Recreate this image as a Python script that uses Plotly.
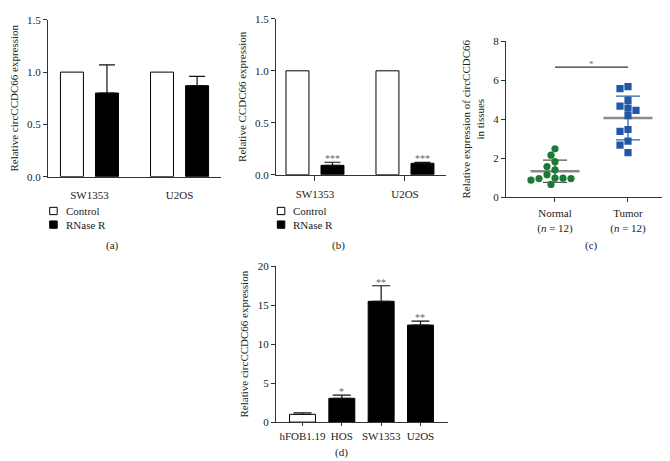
import numpy as np
import plotly.graph_objects as go

W, H = 670, 461
FONT = "Liberation Serif"
AX = "#333333"
TXT = "#222222"

# ---------------- data ----------------
# (a) circCCDC66 after RNase R
a_cells = ["SW1353", "U2OS"]
a_control = [1.0, 1.0]
a_rnase = [0.80, 0.87]
a_rnase_err = [0.27, 0.09]

# (b) linear CCDC66 after RNase R
b_cells = ["SW1353", "U2OS"]
b_control = [1.0, 1.0]
b_rnase = [0.09, 0.11]
b_rnase_err = [0.03, 0.01]
b_sig = ["***", "***"]

# (c) tissues
c_groups = ["Normal", "Tumor"]
c_group_labels = ["Normal<br>(<i>n</i> = 12)", "Tumor<br>(<i>n</i> = 12)"]
c_normal = [2.48, 2.15, 1.82, 1.57, 1.40, 1.15, 0.98, 0.97, 0.95, 0.95, 0.87, 0.65]
c_tumor = [5.67, 5.57, 4.97, 4.67, 4.57, 4.45, 4.18, 3.47, 3.37, 2.87, 2.67, 2.28]
c_sig = "*"

# (d) cell lines
d_cells = ["hFOB1.19", "HOS", "SW1353", "U2OS"]
d_values = [1.0, 3.05, 15.5, 12.45]
d_err = [0.2, 0.42, 2.0, 0.5]
d_sig = ["", "*", "**", "**"]

legend_names = ["Control", "RNase R"]


def px(x):
    return x / W


def py(y):
    return 1 - y / H


fig = go.Figure()

BAR_W = 0.255
OFF_C = -0.322
OFF_R = 0.067

# ---- panel a ----
fig.add_trace(go.Bar(x=a_cells, y=a_control, xaxis="x", yaxis="y", width=BAR_W, offset=OFF_C,
                     marker=dict(color="white", line=dict(color="black", width=1)),
                     name=legend_names[0], showlegend=False))
fig.add_trace(go.Bar(x=a_cells, y=a_rnase, xaxis="x", yaxis="y", width=BAR_W, offset=OFF_R,
                     marker=dict(color="black", line=dict(color="black", width=1)),
                     error_y=dict(type="data", array=a_rnase_err, arrayminus=[0] * len(a_rnase_err),
                                  symmetric=False, color="#111", thickness=1.2, width=8),
                     name=legend_names[1], showlegend=False))

# ---- panel b ----
fig.add_trace(go.Bar(x=b_cells, y=b_control, xaxis="x2", yaxis="y2", width=BAR_W, offset=OFF_C,
                     marker=dict(color="white", line=dict(color="black", width=1)),
                     name=legend_names[0], showlegend=False))
fig.add_trace(go.Bar(x=b_cells, y=b_rnase, xaxis="x2", yaxis="y2", width=BAR_W, offset=OFF_R,
                     marker=dict(color="black", line=dict(color="black", width=1)),
                     error_y=dict(type="data", array=b_rnase_err, arrayminus=[0] * len(b_rnase_err),
                                  symmetric=False, color="#111", thickness=1.2, width=8),
                     name=legend_names[1], showlegend=False))

# ---- panel c ----
c_dom_x = [498 / W, 660 / W]
c_range_x = [-0.671, 1.548]
c_range_y = [0, 8]
px_per_x = (c_dom_x[1] - c_dom_x[0]) * W / (c_range_x[1] - c_range_x[0])
px_per_y = 160 / (c_range_y[1] - c_range_y[0])


def swarm(values, diam=7.4, step=4):
    vals = np.asarray(values, dtype=float)
    order = np.argsort(-vals, kind="stable")
    placed = []
    offs = np.zeros(len(vals))
    cands = [0]
    for k in range(1, 12):
        cands += [-k * step, k * step]
    for i in order:
        yy = vals[i] * px_per_y
        chosen = cands[-1]
        for c in cands:
            if all((c - qx) ** 2 + (yy - qy) ** 2 >= diam ** 2 for qx, qy in placed):
                chosen = c
                break
        placed.append((chosen, yy))
        offs[i] = chosen / px_per_x
    return offs


c_colors = ["#1b7a36", "#2257a8"]
c_sd_colors = ["#555555", "#2d62b5"]
c_symbols = ["circle", "square"]
for gi, vals in enumerate([c_normal, c_tumor]):
    m = float(np.mean(vals))
    sd = float(np.std(vals, ddof=1))
    fig.add_trace(go.Scatter(x=[gi], y=[m], xaxis="x3", yaxis="y3", mode="markers",
                             marker=dict(symbol="line-ew", size=35, color="#8a8a8a",
                                         line=dict(color="#8a8a8a", width=2.5)),
                             error_y=dict(type="data", array=[sd], color=c_sd_colors[gi],
                                          thickness=1.3, width=12),
                             showlegend=False, hoverinfo="skip"))
for gi, vals in enumerate([c_normal, c_tumor]):
    offs = swarm(vals)
    fig.add_trace(go.Scatter(x=gi + offs, y=vals, xaxis="x3", yaxis="y3", mode="markers",
                             marker=dict(symbol=c_symbols[gi], size=7.2, color=c_colors[gi]),
                             name=c_groups[gi], showlegend=False))

sig_level = max(max(c_normal), max(c_tumor)) + 1.0
fig.add_shape(type="line", xref="x3", yref="y3", x0=0, x1=1, y0=sig_level, y1=sig_level,
              line=dict(color="#333", width=1.2))
fig.add_annotation(x=0.5, y=sig_level, xref="x3", yref="y3", text=c_sig, showarrow=False,
                   yanchor="bottom", yshift=-4, font=dict(family=FONT, size=9, color="#666"))

# ---- panel d ----
d_colors = ["white" if i == 0 else "black" for i in range(len(d_cells))]
fig.add_trace(go.Bar(x=d_cells, y=d_values, xaxis="x4", yaxis="y4", width=0.66, offset=-0.33,
                     marker=dict(color=d_colors, line=dict(color="black", width=1)),
                     error_y=dict(type="data", array=d_err, arrayminus=[0] * len(d_err),
                                  symmetric=False, color="#111", thickness=1.2, width=9),
                     showlegend=False))

# stars
for i, s in enumerate(b_sig):
    fig.add_annotation(x=i + OFF_R + BAR_W / 2, y=b_rnase[i] + b_rnase_err[i], xref="x2", yref="y2",
                       text=s, showarrow=False, yanchor="bottom", yshift=-4,
                       font=dict(family=FONT, size=10, color="#666"))
for i, s in enumerate(d_sig):
    if s:
        fig.add_annotation(x=i, y=d_values[i] + d_err[i], xref="x4", yref="y4",
                           text=s, showarrow=False, yanchor="bottom", yshift=-4,
                           font=dict(family=FONT, size=10, color="#666"))

# legends for a and b (swatches + text)
for lx in [41.7, 269.3]:
    for k, (name, fill) in enumerate(zip(legend_names, ["white", "black"])):
        y0 = 198.5 + k * 14
        fig.add_shape(type="rect", xref="paper", yref="paper",
                      x0=px(lx), x1=px(lx + 7.5), y0=py(y0 + 7.5), y1=py(y0),
                      line=dict(color="black", width=1), fillcolor=fill)
        fig.add_annotation(x=px(lx + 14), y=py(y0 + 3.8), xref="paper", yref="paper", text=name,
                           showarrow=False, xanchor="left", yanchor="middle",
                           font=dict(family=FONT, size=11, color=TXT))

# captions
for label, (cx, cy) in zip(["(a)", "(b)", "(c)", "(d)"],
                           [(104, 238), (330, 238), (583, 238), (333, 450)]):
    fig.add_annotation(x=px(cx), y=py(cy), xref="paper", yref="paper", text=label, showarrow=False,
                       xanchor="center", yanchor="middle", font=dict(family=FONT, size=11, color=TXT))

tickfont = dict(family=FONT, size=11, color=TXT)
titlefont = dict(family=FONT, size=11, color=TXT)


def xax(dom, rng, anchor, ticks="outside", ticklen=4, cat=True, standoff=None):
    d = dict(domain=dom, range=rng, anchor=anchor, showline=True, linecolor=AX, linewidth=1,
             ticks=ticks, ticklen=ticklen, tickcolor=AX, showgrid=False, zeroline=False,
             tickfont=tickfont, fixedrange=True)
    if cat:
        d["type"] = "category"
    if standoff is not None:
        d["ticklabelstandoff"] = standoff
    return d


def yax(dom, rng, anchor, tickvals, fmt, title, standoff=6):
    return dict(domain=dom, range=rng, anchor=anchor, showline=True, linecolor=AX, linewidth=1,
                ticks="outside", ticklen=4, tickcolor=AX, showgrid=False, zeroline=False,
                tickvals=tickvals, tickformat=fmt, tickfont=tickfont,
                title=dict(text=title, font=titlefont, standoff=standoff))


fig.update_layout(
    width=W, height=H, margin=dict(l=0, r=0, t=0, b=0),
    paper_bgcolor="white", plot_bgcolor="white",
    font=dict(family=FONT, color=TXT),
    barmode="overlay",
    showlegend=False,
    xaxis=xax([40 / W, 213 / W], [-0.46, 1.46], "y", ticks="", standoff=8),
    yaxis=yax([py(167), py(6)], [0, 1.5], "x", [0, 0.5, 1.0, 1.5], ".1f",
              "Relative circCCDC66 expression"),
    xaxis2=xax([268 / W, 438 / W], [-0.433, 1.456], "y2", ticklen=5, standoff=4),
    yaxis2=yax([py(165), py(5)], [0, 1.5], "x2", [0, 0.5, 1.0, 1.5], ".1f",
               "Relative CCDC66 expression"),
    xaxis3=dict(xax(c_dom_x, c_range_x, "y3", ticklen=4, cat=False, standoff=2),
                tickvals=[0, 1], ticktext=c_group_labels),
    yaxis3=yax([py(188), py(28)], c_range_y, "x3", [0, 2, 4, 6, 8], "d",
               "Relative expression of circCCDC66<br>in tissues"),
    xaxis4=xax([268 / W, 440 / W], [-0.674, 3.70], "y4", ticklen=3, standoff=1),
    yaxis4=yax([py(419), py(259)], [0, 20], "x4", [0, 5, 10, 15, 20], "d",
               "Relative circCCDC66 expression"),
)

fig.write_html("out.html")
